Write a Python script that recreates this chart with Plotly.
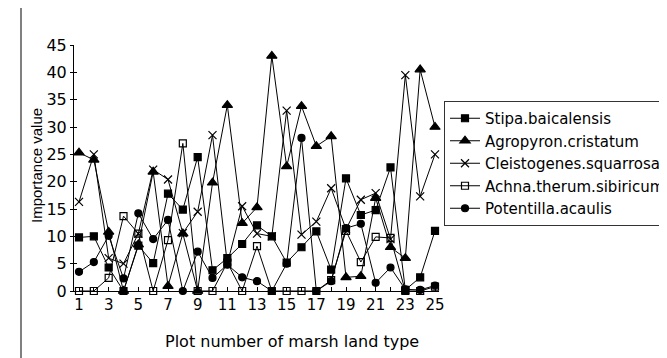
import plotly.graph_objects as go

plots = list(range(1, 26))
stipa = [9.8, 10, 4.3, 0, 8.3, 5.1, 17.8, 14.9, 24.5, 3.8, 6, 8.6, 12, 10, 5.2, 8, 10.9, 3.9, 20.6, 13.9, 14.8, 22.6, 0.2, 2.5, 11]
agropyron = [25.3, 24, 10.8, 0, 8.5, 21.8, 0.9, 10.5, 0, 19.8, 34, 12.4, 15.3, 43, 22.8, 33.8, 26.5, 28.3, 2.5, 2.7, 17, 8, 6, 40.5, 30]
cleistogenes = [16.3, 25, 6, 5, 10.5, 22.2, 20.4, 10.6, 14.5, 28.5, 5, 15.5, 10.5, 10, 33, 10.3, 12.7, 18.8, 11.3, 16.7, 17.9, 9.5, 39.5, 17.3, 25]
achnatherum = [0, 0, 2.4, 13.7, 10.5, 0, 9.3, 27, 0, 0, 5.2, 0, 8.2, 0, 0, 0, 0, 2, 11, 5.3, 9.9, 9.7, 0, 0, 0.8]
potentilla = [3.5, 5.3, 10.1, 2.3, 14.2, 9.5, 13, 0, 7.2, 2.4, 4.8, 2.5, 1.8, 0, 5, 28, 0, 1.8, 11.5, 12.3, 1.5, 4.3, 0.3, 0.2, 1]

names = ["Stipa.baicalensis", "Agropyron.cristatum", "Cleistogenes.squarrosa",
         "Achna.therum.sibiricum", "Potentilla.acaulis"]
series = [stipa, agropyron, cleistogenes, achnatherum, potentilla]
symbols = ["square", "triangle-up", "x-thin-open", "square-open", "circle"]
sizes = [7, 9, 8, 7, 7]

WIDE = "DejaVu Sans, Verdana, sans-serif"
ARIAL = "Liberation Sans, Arial, sans-serif"

fig = go.Figure()
for name, vals, sym, sz in zip(names, series, symbols, sizes):
    fig.add_trace(go.Scatter(
        x=plots, y=vals, name=name, mode="lines+markers",
        line=dict(color="black", width=1),
        marker=dict(symbol=sym, size=sz, color="black",
                    line=dict(color="black", width=1.2)),
        cliponaxis=False,
    ))

L, R, T, B = 66, 431, 37, 283
W, H = 667, 358

def px_x(p):
    return (p - L) / (R - L)

def px_y(p):
    return (B - p) / (B - T)

fig.update_layout(
    width=W, height=H,
    margin=dict(l=L, r=W - R, t=T, b=H - B, autoexpand=False),
    paper_bgcolor="white", plot_bgcolor="white",
    font=dict(family=WIDE, size=15, color="black"),
    showlegend=True,
    legend=dict(x=px_x(436), y=px_y(93),
                xanchor="left", yanchor="top",
                bordercolor="#333333", borderwidth=1,
                font=dict(size=15, family=WIDE),
                tracegroupgap=0, itemsizing="trace",
                bgcolor="white"),
    xaxis=dict(range=[1 - 5 / 14.83, 25.27], tickmode="array",
               tickvals=list(range(1, 26, 2)),
               ticktext=[str(v) for v in range(1, 26, 2)],
               ticks="inside", ticklen=4, tickcolor="black",
               showline=True, linecolor="black", linewidth=1,
               showgrid=False, zeroline=False,
               minor=dict(tickmode="linear", tick0=0, dtick=1,
                          ticks="inside", ticklen=4, tickcolor="black"),
               tickfont=dict(size=15, family=WIDE)),
    yaxis=dict(range=[0, 45], tickmode="linear", tick0=0, dtick=5,
               ticks="outside", ticklen=3, tickcolor="black",
               showline=True, linecolor="black", linewidth=1,
               showgrid=False, zeroline=False,
               tickfont=dict(size=16, family=WIDE)),
    yaxis2=dict(range=[0, 45], tickmode="linear", tick0=0, dtick=5,
                overlaying="y", side="left", anchor="x",
                ticks="inside", ticklen=3, tickcolor="black",
                showticklabels=False, showline=False,
                showgrid=False, zeroline=False),
    annotations=[
        dict(text="Importance value", xref="paper", yref="paper",
             x=px_x(28), y=px_y(158), textangle=-90,
             showarrow=False, font=dict(size=15, family=ARIAL),
             xanchor="center", yanchor="middle"),
        dict(text="Plot number of marsh land type", xref="paper", yref="paper",
             x=px_x(284), y=px_y(333), showarrow=False,
             font=dict(size=16, family=WIDE), xanchor="center", yanchor="middle"),
    ],
    shapes=[
        dict(type="line", xref="paper", yref="paper",
             x0=px_x(13), x1=px_x(13), y0=px_y(H), y1=px_y(0),
             line=dict(color="#808080", width=2)),
    ],
)

fig.add_trace(go.Scatter(x=[1], y=[0], yaxis="y2", mode="markers",
                         marker=dict(opacity=0), showlegend=False,
                         hoverinfo="skip"))

fig.write_html("out.html")
